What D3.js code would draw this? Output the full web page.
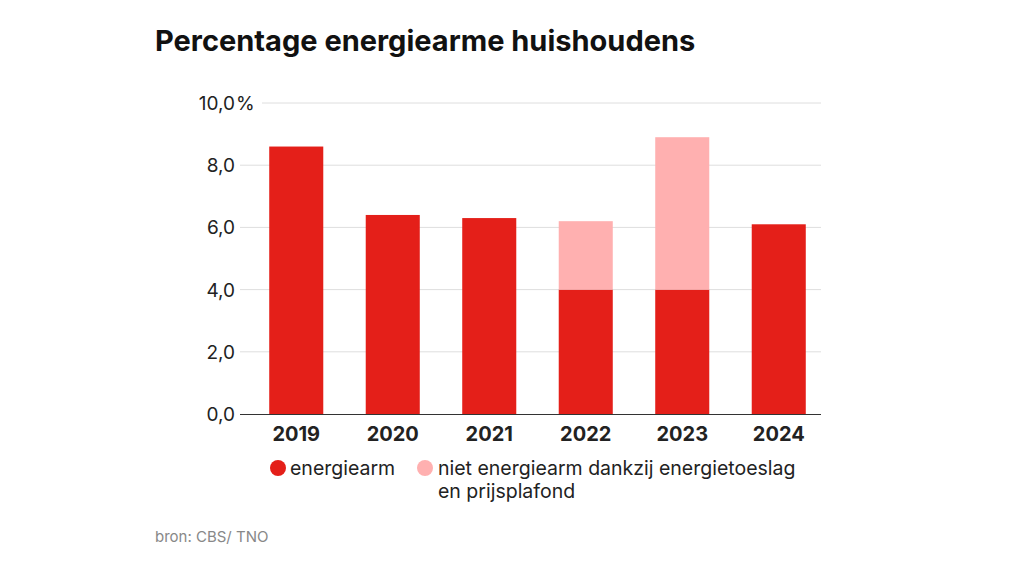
<!DOCTYPE html>
<html>
<head>
<meta charset="utf-8">
<script src="https://cdn.jsdelivr.net/npm/d3@7"></script>
<style>
  body { margin: 0; background: #fff; }
  text { font-family: Inter, "Noto Sans", sans-serif; }
</style>
</head>
<body>
<svg></svg>
<script>
var years = ["2019", "2020", "2021", "2022", "2023", "2024"];
var energiearm = [8.6, 6.4, 6.3, 4.0, 4.0, 6.1];
var nietArm = [0, 0, 0, 2.2, 4.9, 0];
var yTicks = [0, 2, 4, 6, 8, 10];
var seriesNames = ["energiearm", "niet energiearm dankzij energietoeslag", "en prijsplafond"];

var svg = d3.select("svg")
  .attr("width", 1024)
  .attr("height", 576);

var colors = { dark: "#e41f19", light: "#ffb0b0" };

var xScale = d3.scaleBand()
  .domain(years)
  .range([248, 827])
  .paddingInner(0.44)
  .paddingOuter(0.22);

var yScale = d3.scaleLinear()
  .domain([0, 10])
  .range([414, 103]);

// title
svg.append("text")
  .attr("x", 155)
  .attr("y", 51)
  .attr("font-size", 29)
  .attr("font-weight", "bold")
  .attr("fill", "#111")
  .text("Percentage energiearme huishoudens");

// gridlines
svg.append("g").selectAll("line")
  .data(yTicks.filter(function(d) { return d > 0; }))
  .enter()
  .append("line")
  .attr("x1", function(d) { return d == 10 ? 262 : 240; })
  .attr("x2", 821)
  .attr("y1", function(d) { return yScale(d); })
  .attr("y2", function(d) { return yScale(d); })
  .attr("stroke", "#dedede")
  .attr("stroke-width", 1);

// y labels
svg.append("g").selectAll("text")
  .data(yTicks)
  .enter()
  .append("text")
  .attr("x", 235)
  .attr("y", function(d) { return yScale(d) + 7; })
  .attr("text-anchor", "end")
  .attr("font-size", 19)
  .attr("fill", "#222")
  .text(function(d) { return d3.format(".1f")(d).replace(".", ","); });

svg.append("text")
  .attr("x", 236)
  .attr("y", yScale(10) + 7)
  .attr("font-size", 19)
  .attr("fill", "#222")
  .text("%");

// bars
var bars = svg.append("g");
bars.selectAll("rect.dark")
  .data(years)
  .enter()
  .append("rect")
  .classed("dark", true)
  .attr("x", function(d) { return xScale(d); })
  .attr("width", xScale.bandwidth())
  .attr("y", function(d, i) { return yScale(energiearm[i]); })
  .attr("height", function(d, i) { return yScale(0) - yScale(energiearm[i]); })
  .attr("fill", colors.dark);

bars.selectAll("rect.light")
  .data(years)
  .enter()
  .append("rect")
  .classed("light", true)
  .attr("x", function(d) { return xScale(d); })
  .attr("width", xScale.bandwidth())
  .attr("y", function(d, i) { return yScale(energiearm[i] + nietArm[i]); })
  .attr("height", function(d, i) { return yScale(energiearm[i]) - yScale(energiearm[i] + nietArm[i]); })
  .attr("fill", colors.light);

// baseline
svg.append("line")
  .attr("x1", 240)
  .attr("x2", 821)
  .attr("y1", yScale(0) + 0.5)
  .attr("y2", yScale(0) + 0.5)
  .attr("stroke", "#333")
  .attr("stroke-width", 1.2);

// x labels
svg.append("g").selectAll("text")
  .data(years)
  .enter()
  .append("text")
  .attr("x", function(d) { return xScale(d) + xScale.bandwidth() / 2; })
  .attr("y", 441)
  .attr("text-anchor", "middle")
  .attr("font-size", 20)
  .attr("font-weight", "bold")
  .attr("fill", "#222")
  .text(function(d) { return d; });

// legend
var legend = svg.append("g");
legend.append("circle").attr("cx", 278).attr("cy", 468).attr("r", 8).attr("fill", colors.dark);
legend.append("text").attr("x", 290).attr("y", 475).attr("font-size", 19.5).attr("fill", "#222").text(seriesNames[0]);
legend.append("circle").attr("cx", 425).attr("cy", 468).attr("r", 8).attr("fill", colors.light);
legend.append("text").attr("x", 438).attr("y", 475).attr("font-size", 19.5).attr("fill", "#222").text(seriesNames[1]);
legend.append("text").attr("x", 438).attr("y", 498).attr("font-size", 19.5).attr("fill", "#222").text(seriesNames[2]);

// source
svg.append("text")
  .attr("x", 155)
  .attr("y", 542)
  .attr("font-size", 15)
  .attr("fill", "#888")
  .text("bron: CBS/ TNO");
</script>
</body>
</html>
